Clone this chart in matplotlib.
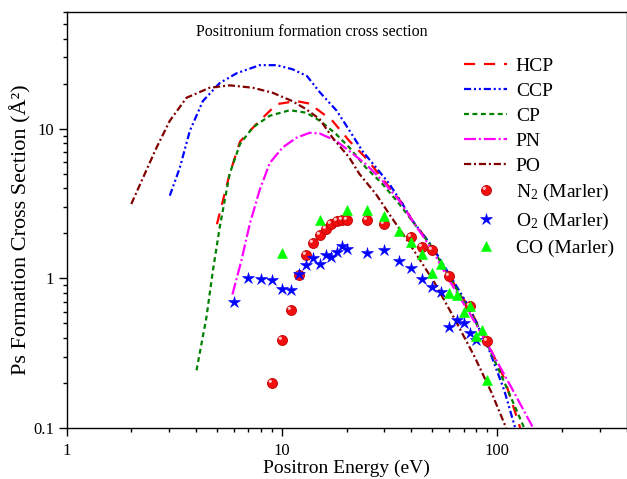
import matplotlib
matplotlib.use("Agg")
import matplotlib.pyplot as plt
from matplotlib.ticker import LogLocator, FuncFormatter, NullFormatter
from matplotlib.path import Path
from matplotlib.legend_handler import HandlerTuple

plt.rcParams['font.family'] = ['Liberation Serif', 'DejaVu Serif']
plt.rcParams['mathtext.default'] = 'regular'

# ---------------- data ----------------
hcp_E = [5.0, 5.73, 6.4, 7.65, 8.15, 9.47, 11.7, 13.9, 14.5, 17.2, 20.6, 24.8, 29.4, 36.4, 40.5, 49.6, 59.5, 74.4, 89.2, 108.1, 128.3]
hcp_s = [2.3, 5.0, 8.2, 10.8, 11.8, 14.6, 15.3, 14.6, 13.6, 11.3, 8.3, 6.3, 4.63, 3.16, 2.43, 1.66, 1.06, 0.631, 0.386, 0.215, 0.1]

ccp_E = [3.02, 3.36, 3.74, 4.30, 5.15, 6.18, 7.90, 9.47, 11.2, 13.1, 15.0, 18.0, 20.7, 23.7, 27.5, 31.6, 36.3, 40.5, 49.6, 59.5, 74.4, 92.1, 108.1, 121.6]
ccp_s = [3.57, 5.48, 9.66, 15.3, 20.2, 23.5, 26.6, 26.6, 25.0, 22.5, 17.6, 13.2, 9.67, 7.1, 5.48, 4.29, 3.16, 2.43, 1.66, 1.09, 0.64, 0.331, 0.179, 0.1]

cp_E = [4.02, 4.47, 4.79, 5.15, 5.73, 6.4, 7.34, 8.79, 10.9, 13.0, 15.2, 17.9, 20.6, 24.6, 29.4, 35.2, 39.2, 49.6, 59.5, 74.4, 89.2, 108.1, 133.9]
cp_s = [0.243, 0.55, 1.13, 2.19, 5.0, 7.9, 10.2, 12.2, 13.3, 12.8, 11.2, 9.2, 7.5, 5.5, 4.27, 3.14, 2.56, 1.64, 1.046, 0.611, 0.376, 0.203, 0.1]

pn_E = [5.9, 6.5, 7.1, 7.9, 8.8, 10.1, 11.7, 13.5, 15.0, 17.9, 20.6, 24.6, 29.4, 35.2, 40.5, 49.6, 60.1, 74.4, 92.1, 116.5, 147.4]
pn_s = [0.78, 1.32, 2.3, 3.9, 5.9, 7.5, 8.7, 9.4, 9.3, 8.3, 7.1, 5.8, 4.49, 3.3, 2.43, 1.58, 0.968, 0.59, 0.346, 0.1875, 0.1]

po_E = [2.0, 2.27, 2.62, 3.02, 3.61, 4.63, 5.73, 7.33, 9.07, 11.2, 13.0, 15.0, 17.2, 20.6, 23.0, 27.4, 31.6, 39.2, 51.2, 63.4, 78.5, 94.1, 110.4]
po_s = [3.14, 4.72, 7.48, 11.3, 16.1, 18.8, 19.5, 18.8, 17.4, 15.3, 13.5, 11.6, 8.73, 6.42, 4.97, 3.66, 2.69, 1.71, 0.94, 0.54, 0.302, 0.174, 0.1]

n2_E = [9, 10, 11, 12, 13, 14, 15, 16, 17, 18, 19, 20, 25, 30, 40, 45, 50, 60, 75, 90]
n2_s = [0.2, 0.39, 0.61, 1.06, 1.43, 1.72, 1.95, 2.15, 2.3, 2.4, 2.45, 2.46, 2.46, 2.3, 1.9, 1.63, 1.55, 1.03, 0.65, 0.38]

o2_E = [6, 7, 8, 9, 10, 11, 12, 13, 14, 15, 16, 17, 18, 19, 20, 25, 30, 35, 40, 45, 50, 55, 60, 65, 70, 75, 80]
o2_s = [0.7, 1.0, 0.99, 0.98, 0.85, 0.84, 1.07, 1.23, 1.36, 1.25, 1.43, 1.4, 1.5, 1.65, 1.58, 1.47, 1.55, 1.3, 1.18, 0.99, 0.87, 0.81, 0.47, 0.53, 0.5, 0.43, 0.39]

co_E = [10, 15, 20, 25, 30, 35, 40, 45, 50, 55, 60, 65, 70, 75, 80, 85, 90]
co_s = [1.47, 2.46, 2.86, 2.86, 2.63, 2.06, 1.74, 1.46, 1.08, 1.25, 0.8, 0.78, 0.6, 0.65, 0.41, 0.45, 0.21]

labels = ['HCP', 'CCP', 'CP', 'PN', 'PO',
          'N$_2$ (Marler)', 'O$_2$ (Marler)', 'CO (Marler)']

# ---------------- figure ----------------
fig = plt.figure(figsize=(6.27, 4.79), dpi=100)
ax = fig.add_axes([66.5 / 627, 51 / 479, 560 / 627, 415.7 / 479])

lw = 1.6
h1, = ax.plot(hcp_E, hcp_s, color='#ff0000', lw=lw, dashes=(5.0, 4.0))
h2, = ax.plot(ccp_E, ccp_s, color='#0000ff', lw=lw, dashes=(3.2, 1.3, 0.9, 1.3, 0.9, 1.3))
h3, = ax.plot(cp_E, cp_s, color='#008000', lw=lw, dashes=(2.2, 1.6))
h4, = ax.plot(pn_E, pn_s, color='#ff00ff', lw=lw, dashes=(5.4, 1.3, 0.9, 1.3))
h5, = ax.plot(po_E, po_s, color='#800000', lw=lw, dashes=(3.2, 1.3, 0.9, 1.3))

# shaded-sphere look for N2 markers: red disc + small highlight offset to upper left
hl_circle = Path.circle(center=(-0.22, 0.22), radius=0.16)
hl_marker = Path(list(hl_circle.vertices) + [(0.5, 0.5), (-0.5, -0.5)],
                 list(hl_circle.codes) + [Path.MOVETO, Path.MOVETO])
h6, = ax.plot(n2_E, n2_s, ls='none', marker='o', ms=7.2, mfc='#f01010', mec='#c00000', mew=0.6)
h6b, = ax.plot(n2_E, n2_s, ls='none', marker=hl_marker, ms=7.2, mfc='#ffc8c8', mec='none')
h7, = ax.plot(o2_E, o2_s, ls='none', marker='*', ms=9, mfc='#0000ff', mec='#0000ff', mew=0.4)
h8, = ax.plot(co_E, co_s, ls='none', marker='^', ms=7.5, mfc='#00ff00', mec='#00ff00', mew=0.4)

ax.set_xscale('log')
ax.set_yscale('log')
ax.set_xlim(1, 400)
ax.set_ylim(0.1, 60)

fmt = FuncFormatter(lambda v, p: '%g' % v)
ax.xaxis.set_major_locator(LogLocator(base=10, numticks=10))
ax.yaxis.set_major_locator(LogLocator(base=10, numticks=10))
ax.xaxis.set_minor_locator(LogLocator(base=10, subs=range(2, 10), numticks=20))
ax.yaxis.set_minor_locator(LogLocator(base=10, subs=range(2, 10), numticks=20))
ax.xaxis.set_major_formatter(fmt)
ax.yaxis.set_major_formatter(fmt)
ax.xaxis.set_minor_formatter(NullFormatter())
ax.yaxis.set_minor_formatter(NullFormatter())

ax.tick_params(which='major', direction='out', length=6, width=1.0, labelsize=12)
ax.tick_params(axis='x', which='major', pad=5)
ax.tick_params(axis='y', which='major', pad=3)
ax.tick_params(which='minor', direction='out', length=3, width=1.0)
ax.tick_params(top=False, right=False, which='both')
for s in ax.spines.values():
    s.set_linewidth(1.0)

ax.set_xlabel('Positron Energy (eV)', fontsize=14, labelpad=0)
ax.set_ylabel('Ps Formation Cross Section (Å²)', fontsize=16)
ax.yaxis.set_label_coords(-0.062, 0.476)

ax.text(0.438, 0.952, 'Positronium formation cross section', transform=ax.transAxes,
        ha='center', va='center', fontsize=11.5)

handles = [h1, h2, h3, h4, h5, (h6, h6b), h7, h8]
leg = ax.legend(handles, labels, loc='upper left', bbox_to_anchor=(0.686, 0.925), frameon=False,
                fontsize=14, handlelength=2.2, handletextpad=0.45,
                labelspacing=0.38, numpoints=1, borderpad=0.2,
                handler_map={tuple: HandlerTuple(ndivide=1, pad=0)})

fig.savefig('out.png', dpi=100)
